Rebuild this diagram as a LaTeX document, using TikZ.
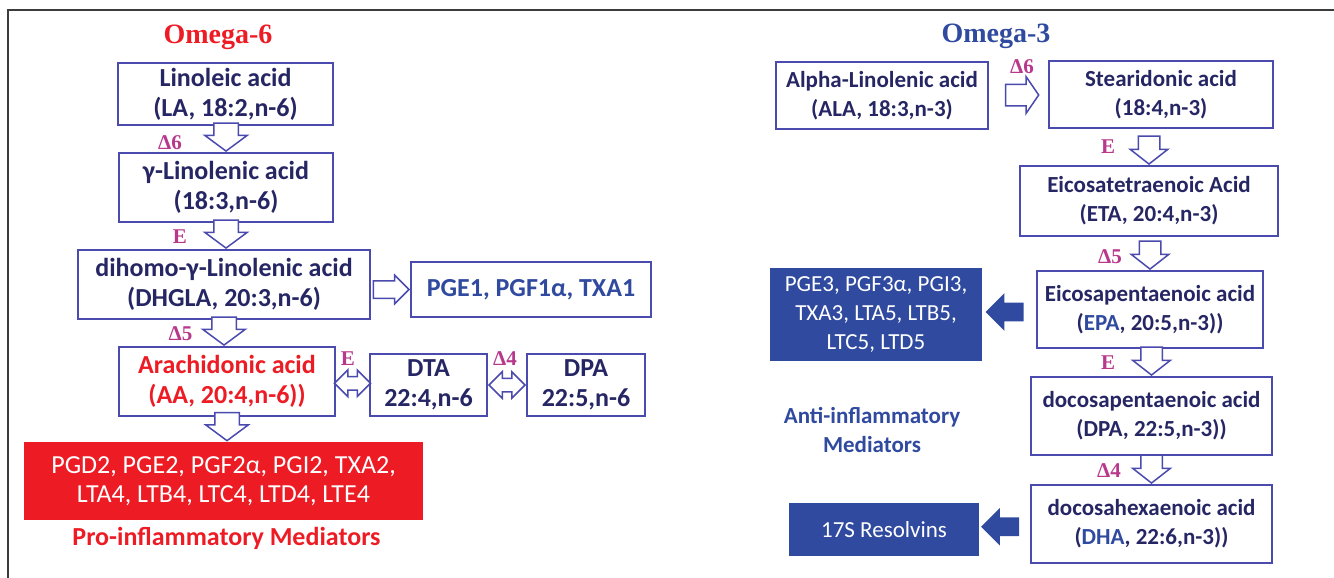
\documentclass[tikz,border=0pt]{standalone}
\usepackage{fontspec}
\setmainfont{Carlito}
\newfontfamily\serifbold{Liberation Serif}
\usetikzlibrary{shapes.arrows}

\definecolor{boxline}{RGB}{75,75,175}
\definecolor{navytext}{RGB}{38,38,100}
\definecolor{medblue}{RGB}{47,74,158}
\definecolor{redbox}{RGB}{237,28,36}
\definecolor{enzyme}{RGB}{184,56,140}
\definecolor{framegray}{RGB}{60,60,60}

\newcommand{\acidfont}{\fontsize{13}{15}\selectfont\bfseries}
\newcommand{\acidsmall}{\fontsize{11.5}{14.5}\selectfont\bfseries}
\newcommand{\medfont}{\fontsize{13}{14.5}\selectfont}
\newcommand{\medsmall}{\fontsize{11.5}{14.5}\selectfont}
\newcommand{\headfont}{\serifbold\fontsize{14}{16}\selectfont\bfseries}
\newcommand{\enzfont}{\serifbold\fontsize{10.5}{12}\selectfont\bfseries}

\tikzset{
  acid/.style={draw=boxline, line width=1pt, fill=white, align=center,
    inner sep=0pt, text=navytext, font=\acidfont},
  medbox/.style={fill=medblue, align=center, inner sep=0pt, text=white, font=\medfont},
  heading/.style={font=\headfont, inner sep=0pt},
  enz/.style={text=enzyme, font=\enzfont, inner sep=0pt},
  blockarr/.style={draw=boxline, line width=0.75pt, fill=white, inner sep=0pt},
  downarr/.style={blockarr, single arrow, shape border rotate=270,
    minimum height=14pt, minimum width=20.5pt, inner xsep=5.75pt, inner ysep=0pt,
    single arrow head extend=4.5pt, single arrow tip angle=107},
  downarrs/.style={blockarr, single arrow, shape border rotate=270,
    minimum height=14pt, minimum width=18pt, inner xsep=5pt, inner ysep=0pt,
    single arrow head extend=4pt, single arrow tip angle=104},
  rightarr/.style={blockarr, single arrow, minimum height=17.75pt,
    minimum width=13.5pt, inner ysep=4pt, inner xsep=0pt,
    single arrow head extend=2.75pt, single arrow tip angle=90},
  widearr/.style={blockarr, single arrow, minimum height=16.5pt,
    minimum width=17.5pt, inner ysep=5pt, inner xsep=0pt,
    single arrow head extend=3.75pt, single arrow tip angle=111},
  botharr/.style={blockarr, double arrow, minimum height=18pt,
    minimum width=12.5pt, inner ysep=3pt, inner xsep=0pt,
    double arrow head extend=3.25pt, double arrow tip angle=90},
  fillarr/.style={single arrow, fill=medblue, draw=none, inner sep=0pt,
    shape border rotate=180, minimum height=19pt, minimum width=18.5pt,
    inner ysep=4.5pt, inner xsep=0pt,
    single arrow head extend=4.75pt, single arrow tip angle=90}
}

\begin{document}
\begin{tikzpicture}[x=0.5pt, y=-0.5pt]
  \useasboundingbox (0,0) rectangle (1334,578);
  \draw[framegray, line width=0.9pt] (8,578) -- (8,10) -- (1334,10);

  % omega-6 pathway
  \node[heading, text=redbox] (om6) at (218,37) {Omega-6};
  \node[acid, minimum width=107.5pt, minimum height=31pt] (la) at (225.5,94) {Linoleic acid\\(LA, 18:2,n-6)};
  \node[acid, minimum width=107pt, minimum height=34.5pt] (gla) at (226,187.5) {γ-Linolenic acid\\(18:3,n-6)};
  \node[acid, minimum width=146pt, minimum height=34.5pt] (dgla) at (224,284.5) {dihomo-γ-Linolenic acid\\(DHGLA, 20:3,n-6)};
  \node[acid, text=medblue, minimum width=120pt, minimum height=27.5pt] (pge1) at (531,289.5) {PGE1, PGF1α, TXA1};
  \node[acid, text=redbox, minimum width=108pt, minimum height=34.5pt] (aa) at (227,381.5) {Arachidonic acid\\(AA, 20:4,n-6))};
  \node[acid, minimum width=58.5pt, minimum height=31pt] (dta) at (428.5,385) {DTA\\22:4,n-6};
  \node[acid, minimum width=59pt, minimum height=31pt] (dpa6) at (586,385) {DPA\\22:5,n-6};
  \node[medbox, fill=redbox, minimum width=199.5pt, minimum height=39pt] (pro) at (223.5,481) {PGD2, PGE2, PGF2α, PGI2, TXA2,\\LTA4, LTB4, LTC4, LTD4, LTE4};
  \node[font=\acidfont, text=redbox] (prolbl) at (226.5,538) {Pro-inflammatory Mediators};

  \path (la.south) -- (gla.north) node[downarr, anchor=tip] (a1) {};
  \path (gla.south) -- (gla.south |- dgla.north) node[downarr, anchor=tip] (a2) {};
  \path (dgla.south) -- (dgla.south |- aa.north) node[downarr, anchor=tip] (a3) {};
  \path (aa.south) -- (aa.south |- pro.north) node[downarr, anchor=tip] (a4) {};
  \path (dgla.east |- pge1.west) -- (pge1.west) node[rightarr, anchor=tip] (a5) {};
  \path (aa.east) -- node[botharr] (b1) {} (dta.west);
  \path (dta.east) -- node[botharr] (b2) {} (dpa6.west);

  \node[enz] (d6a) at (170,142.5) {Δ6};
  \node[enz] (e1a) at (180,236.5) {E};
  \node[enz] (d5a) at (180.5,334) {Δ5};
  \node[enz] (e2a) at (348,359) {E};
  \node[enz] (d4a) at (505,359) {Δ4};

  % omega-3 pathway
  \node[heading, text=medblue] (om3) at (996,36) {Omega-3};
  \node[acid, font=\acidsmall, minimum width=106pt, minimum height=33.5pt] (ala) at (882,95.5) {Alpha-Linolenic acid\\(ALA, 18:3,n-3)};
  \node[acid, font=\acidsmall, minimum width=112pt, minimum height=33.5pt] (sda) at (1161,94.5) {Stearidonic acid\\(18:4,n-3)};
  \node[acid, font=\acidsmall, minimum width=129pt, minimum height=35pt] (eta) at (1149,201) {Eicosatetraenoic Acid\\(ETA, 20:4,n-3)};
  \node[acid, font=\acidsmall, minimum width=113pt, minimum height=38.5pt] (epa) at (1150,309.5) {Eicosapentaenoic acid\\(\textcolor{medblue}{EPA}, 20:5,n-3))};
  \node[medbox, font=\medsmall, minimum width=106pt, minimum height=46.5pt] (pge3) at (876,314.5) {PGE3, PGF3α, PGI3,\\TXA3, LTA5, LTB5,\\LTC5, LTD5};
  \node[acid, font=\acidsmall, minimum width=120.5pt, minimum height=39pt] (dpa3) at (1151.5,416) {docosapentaenoic acid\\(DPA, 22:5,n-3))};
  \node[font=\acidsmall, text=medblue, align=center] (antilbl) at (872,430) {Anti-inflammatory\\Mediators};
  \node[acid, font=\acidsmall, minimum width=120.5pt, minimum height=39pt] (dha) at (1151.5,524) {docosahexaenoic acid\\(\textcolor{medblue}{DHA}, 22:6,n-3))};
  \node[medbox, font=\medsmall, minimum width=95pt, minimum height=26.5pt] (res) at (884,529.5) {17S Resolvins};

  \path (ala.east) -- node[widearr] (a6) {} (sda.west);
  \path (sda.south) -- (eta.north) node[downarrs, anchor=tip] (a7) {};
  \path (eta.south) -- (epa.north) node[downarrs, anchor=tip] (a8) {};
  \path (epa.south) -- (dpa3.north) node[downarrs, anchor=tip] (a9) {};
  \path (dpa3.south) -- (dha.north) node[downarrs, anchor=tip] (a10) {};
  \path (epa.west) -- node[fillarr] (f1) {} (pge3.east);
  \path (dha.west) -- node[fillarr] (f2) {} (res.east);

  \node[enz] (d6b) at (1022,67) {Δ6};
  \node[enz] (e1b) at (1108,147) {E};
  \node[enz] (d5b) at (1110,257) {Δ5};
  \node[enz] (e2b) at (1108,363) {E};
  \node[enz] (d4b) at (1109,471) {Δ4};
\end{tikzpicture}
\end{document}
